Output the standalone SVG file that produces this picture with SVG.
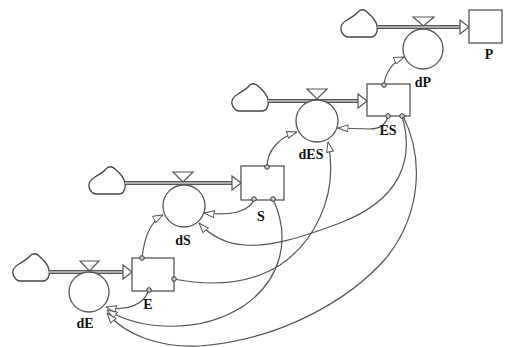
<svg xmlns="http://www.w3.org/2000/svg" width="512" height="347" viewBox="0 0 512 347">
<style>
.ln{fill:none;stroke:#555;stroke-width:1.2}
.stock{fill:#fff;stroke:#555;stroke-width:1.3}
.aux{fill:#fff;stroke:#555;stroke-width:1.3}
.cloud{fill:#fff;stroke:#444;stroke-width:1.3}
.po{fill:none;stroke:#555;stroke-width:4.2}
.pi{fill:none;stroke:#c8c8c8;stroke-width:1.4}
.ph{fill:#fff;stroke:#555;stroke-width:1.2}
.valve{fill:#fff;stroke:#555;stroke-width:1.2}
.dot{fill:#ccc;stroke:#333;stroke-width:1}
text{font-family:"Liberation Serif",serif;font-size:14px;font-weight:bold;text-anchor:middle;fill:#111}
</style>
<defs>
<marker id="ah" markerUnits="userSpaceOnUse" viewBox="0 0 11 8" refX="10.5" refY="4" markerWidth="11" markerHeight="8" orient="auto">
<path d="M0.5,0.5 L10.5,4 L0.5,7.5 Z" fill="#fff" stroke="#555" stroke-width="1"/>
</marker>
<path id="cl" d="M8,28 L31,28 C36,28 38,22 37,17 C36,10 30,6 27,3 C24,0 20,0 18,3 C15,7 11,8 7,11 C3,13 0,17 1,21 C2,25 5,28 8,28 Z"/>
</defs>

<g id="connectors">
<path class="ln" marker-end="url(#ah)" d="M142,258 C144,240 149,222 163,215"/>
<path class="ln" marker-end="url(#ah)" d="M149,290 C144,304 128,312 106,307"/>
<path class="ln" marker-end="url(#ah)" d="M174,279 C215,287 250,284 280,265 C310,245 340,200 328,142"/>
<path class="ln" marker-end="url(#ah)" d="M254,199 C250,212 230,216 204,213"/>
<path class="ln" marker-end="url(#ah)" d="M267,167 C267,150 280,137 297,132"/>
<path class="ln" marker-end="url(#ah)" d="M273,199 C292,240 280,280 245,305 C200,335 140,330 107,310"/>
<path class="ln" marker-end="url(#ah)" d="M388,116 C386,124 380,129 370,129 L338,128"/>
<path class="ln" marker-end="url(#ah)" d="M402,116 C415,160 400,200 340,223 C300,238 270,247 245,245 C225,244 210,235 199,223"/>
<path class="ln" marker-end="url(#ah)" d="M403,116 C425,160 420,215 387,257 C350,300 280,340 200,346 C160,348 125,335 107,313"/>
<path class="ln" marker-end="url(#ah)" d="M384,85 C385,74 392,62 404,57"/>
</g>

<g id="flow-dE">
<use href="#cl" class="cloud" transform="translate(12,253)"/>
<line class="po" x1="49" y1="272" x2="124" y2="272"/>
<line class="pi" x1="49" y1="272" x2="124" y2="272"/>
<polygon class="ph" points="123,265 132,272 123,279"/>
<polygon class="valve" points="80,261 99,261 89.5,271"/>
<circle class="aux" cx="89" cy="292" r="20"/>
<text x="85" y="328">dE</text>
</g>
<g id="stock-E">
<rect class="stock" x="132" y="258" width="42" height="33"/>
<circle class="dot" cx="142" cy="258" r="2.3"/>
<circle class="dot" cx="149" cy="290" r="2.3"/>
<circle class="dot" cx="174" cy="279" r="2.3"/>
<text x="148" y="309">E</text>
</g>

<g id="flow-dS">
<use href="#cl" class="cloud" transform="translate(88,166)"/>
<line class="po" x1="125" y1="183" x2="233" y2="183"/>
<line class="pi" x1="125" y1="183" x2="233" y2="183"/>
<polygon class="ph" points="232,176 241,183 232,190"/>
<polygon class="valve" points="173,172 193,172 183,182"/>
<circle class="aux" cx="184" cy="206" r="21"/>
<text x="183" y="245">dS</text>
</g>
<g id="stock-S">
<rect class="stock" x="241" y="166" width="43" height="34"/>
<circle class="dot" cx="267" cy="167" r="2.3"/>
<circle class="dot" cx="254" cy="199" r="2.3"/>
<circle class="dot" cx="273" cy="199" r="2.3"/>
<text x="261" y="221">S</text>
</g>

<g id="flow-dES">
<use href="#cl" class="cloud" transform="translate(231,83)"/>
<line class="po" x1="268" y1="101" x2="359" y2="101"/>
<line class="pi" x1="268" y1="101" x2="359" y2="101"/>
<polygon class="ph" points="358,94 367,101 358,108"/>
<polygon class="valve" points="307,89 327,89 317,99"/>
<circle class="aux" cx="317" cy="121" r="21"/>
<text x="311" y="159">dES</text>
</g>
<g id="stock-ES">
<rect class="stock" x="367" y="84" width="43" height="32"/>
<circle class="dot" cx="384" cy="85" r="2.3"/>
<circle class="dot" cx="388" cy="116" r="2.3"/>
<circle class="dot" cx="402" cy="116" r="2.3"/>
<text x="388" y="135">ES</text>
</g>

<g id="flow-dP">
<use href="#cl" class="cloud" transform="translate(340,9)"/>
<line class="po" x1="377" y1="27" x2="461" y2="27"/>
<line class="pi" x1="377" y1="27" x2="461" y2="27"/>
<polygon class="ph" points="460,20 469,27 460,34"/>
<polygon class="valve" points="413,17 434,17 423.5,26"/>
<circle class="aux" cx="423" cy="49" r="20"/>
<text x="423" y="87">dP</text>
</g>
<g id="stock-P">
<rect class="stock" x="469" y="10" width="33" height="33"/>
<text x="489" y="59">P</text>
</g>
</svg>
